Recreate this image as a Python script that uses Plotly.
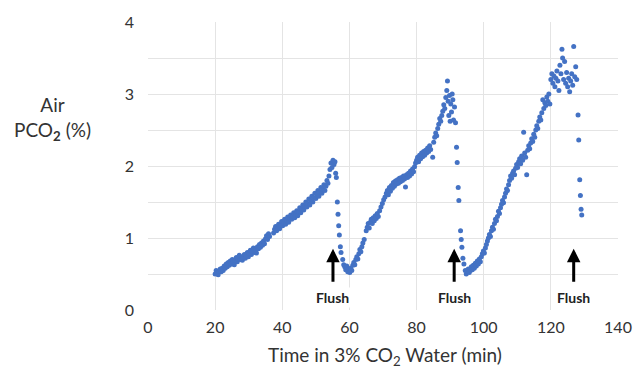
import plotly.graph_objects as go

# ---- data: (time in min, air PCO2 %) ----
seg1_x = [20.0, 20.3, 20.6, 20.9, 21.2, 21.5, 21.8, 22.1, 22.4, 22.7, 23.0, 23.3, 23.6, 23.9, 24.2, 24.5, 24.8,
          25.1, 25.4, 25.7, 26.0, 26.3, 26.6, 26.9, 27.2, 27.5, 27.8, 28.1, 28.4, 28.7, 29.0, 29.3, 29.6, 29.9,
          30.2, 30.5, 30.8, 31.1, 31.4, 31.7, 32.0, 32.3, 32.6, 32.9, 33.2, 33.5, 33.8, 34.1, 34.4, 34.7, 35.0,
          35.3, 35.6, 35.9, 36.2, 37.4, 37.7, 38.0, 38.3, 38.6, 38.9, 39.2, 39.5, 39.8, 40.1, 40.4, 40.7, 41.0,
          41.3, 41.6, 41.9, 42.2, 42.5, 42.8, 43.1, 43.4, 43.7, 44.0, 44.3, 44.6, 44.9, 45.2, 45.5, 45.8, 46.1,
          46.4, 46.7, 47.0, 47.3, 47.6, 47.9, 48.2, 48.5, 48.8, 49.1, 49.4, 49.7, 50.0, 50.3, 50.6, 50.9, 51.2,
          51.5, 51.8, 52.1, 52.4, 52.7, 53.0, 53.3, 53.6, 53.9, 54.2, 54.5, 54.8, 55.1, 55.4, 55.7, 55.9, 56.1,
          56.4, 56.6, 56.8, 57.0, 57.3, 57.5]
seg1_y = [0.50, 0.55, 0.52, 0.49, 0.54, 0.57, 0.53, 0.58, 0.55, 0.61, 0.58, 0.64, 0.60, 0.66, 0.62, 0.68, 0.64,
          0.70, 0.66, 0.63, 0.69, 0.73, 0.67, 0.71, 0.76, 0.70, 0.74, 0.69, 0.73, 0.77, 0.72, 0.75, 0.80, 0.74,
          0.78, 0.83, 0.77, 0.81, 0.86, 0.80, 0.84, 0.79, 0.88, 0.85, 0.91, 0.87, 0.93, 0.90, 0.96, 0.92, 0.99,
          1.03, 0.98, 1.06, 1.02, 1.07, 1.12, 1.16, 1.10, 1.14, 1.19, 1.13, 1.18, 1.23, 1.17, 1.21, 1.26, 1.19,
          1.24, 1.29, 1.22, 1.27, 1.32, 1.26, 1.30, 1.35, 1.28, 1.33, 1.38, 1.31, 1.36, 1.42, 1.35, 1.40, 1.46,
          1.39, 1.44, 1.50, 1.43, 1.48, 1.54, 1.46, 1.52, 1.58, 1.50, 1.56, 1.62, 1.55, 1.60, 1.66, 1.58, 1.64,
          1.70, 1.62, 1.68, 1.74, 1.66, 1.72, 1.80, 1.76, 1.86, 1.95, 2.04, 1.98, 2.08, 2.02, 2.06, 1.90, 1.84,
          1.50, 1.33, 1.17, 1.04, 0.88, 0.80]

seg2_x = [58.0, 58.3, 58.6, 58.9, 59.2, 59.5, 59.8, 60.1, 60.4, 60.7, 61.0, 61.3, 61.6, 61.9, 62.2, 62.5, 62.8,
          63.1, 63.4, 63.7, 64.0, 64.4, 65.0, 65.3, 65.6, 65.9, 66.2, 66.5, 66.8, 67.1, 67.4, 67.7, 68.0, 68.3,
          68.6, 69.0, 69.4, 69.8, 70.2, 70.6, 71.0, 71.3, 71.6, 71.9, 72.2, 72.5, 72.8, 73.1, 73.4, 73.7, 74.0,
          74.3, 74.6, 74.9, 75.2, 75.5, 75.8, 76.1, 76.4, 76.7, 77.0, 77.3, 77.6, 77.9, 78.2, 78.5, 78.8, 79.1,
          79.4, 79.7, 80.0, 80.3, 80.6, 80.9, 81.2, 81.5, 81.8, 82.1, 82.4, 82.7, 83.0, 83.3, 83.6, 83.9, 84.2,
          84.8, 85.1, 85.4, 85.7, 86.0, 86.3, 86.6, 86.9, 87.2, 87.5, 87.8, 88.1, 88.4, 88.7, 89.0, 89.2, 89.4,
          89.6, 89.8, 90.0, 90.2, 90.4, 90.6, 90.8, 91.0, 91.3, 91.6, 91.9, 92.1, 92.4, 92.6, 93.1, 93.3, 93.5,
          93.8, 94.1]
seg2_y = [0.70, 0.63, 0.60, 0.56, 0.61, 0.53, 0.57, 0.52, 0.58, 0.55, 0.62, 0.66, 0.63, 0.70, 0.74, 0.71, 0.78,
          0.84, 0.81, 0.88, 0.93, 0.98, 1.10, 1.15, 1.20, 1.14, 1.22, 1.26, 1.20, 1.28, 1.24, 1.31, 1.27, 1.34,
          1.30, 1.38, 1.43, 1.48, 1.53, 1.57, 1.62, 1.66, 1.60, 1.70, 1.65, 1.73, 1.69, 1.77, 1.72, 1.79, 1.75,
          1.81, 1.76, 1.83, 1.78, 1.84, 1.80, 1.86, 1.82, 1.71, 1.88, 1.84, 1.90, 1.86, 1.93, 1.89, 1.96, 1.92,
          1.99, 2.04, 2.08, 2.12, 2.06, 2.15, 2.10, 2.18, 2.13, 2.20, 2.15, 2.22, 2.18, 2.25, 2.20, 2.28, 2.23,
          2.12, 2.33, 2.40, 2.46, 2.42, 2.52, 2.58, 2.66, 2.62, 2.70, 2.76, 2.85, 2.80, 2.95, 3.05, 3.18, 2.90,
          2.70, 2.98, 2.62, 2.86, 2.75, 3.00, 2.92, 2.64, 2.82, 2.60, 2.26, 2.05, 1.70, 1.52, 1.10, 0.98, 0.87,
          0.72, 0.64]

seg3_x = [94.5, 94.8, 95.1, 95.4, 95.7, 96.0, 96.3, 96.6, 96.9, 97.2, 97.5, 97.8, 98.1, 98.4, 98.7, 99.0, 99.3,
          99.6, 99.9, 100.2, 100.5, 100.8, 101.1, 101.4, 101.7, 102.0, 102.3, 102.6, 102.9, 103.2, 103.5, 103.8,
          104.1, 104.4, 104.7, 105.0, 105.3, 105.6, 105.9, 106.2, 106.5, 106.8, 107.1, 107.4, 107.7, 108.0,
          108.3, 108.6, 108.9, 109.2, 109.5, 109.8, 110.1, 110.4, 110.7, 111.0, 111.3, 111.6, 111.9, 112.2,
          112.5, 112.8, 113.1, 113.4, 113.7, 114.0, 114.3, 114.6, 114.9, 115.2, 115.5, 115.8, 116.1, 116.4,
          116.7, 117.0, 117.3, 117.6, 117.9, 118.2, 118.5, 118.8, 119.1, 119.4, 119.7, 120.0, 120.3, 120.6,
          120.9, 121.2, 121.5, 121.8, 122.1, 122.4, 122.7, 123.0, 123.3, 123.5, 123.8, 124.1, 124.4, 124.7,
          125.0, 125.3, 125.6, 125.9, 126.2, 126.5, 126.8, 127.1, 127.4, 127.7, 128.1, 128.3, 128.6, 128.8,
          129.0, 129.2]
seg3_y = [0.55, 0.50, 0.53, 0.57, 0.52, 0.55, 0.60, 0.56, 0.62, 0.58, 0.65, 0.61, 0.68, 0.64, 0.71, 0.67, 0.74,
          0.78, 0.82, 0.79, 0.86, 0.91, 0.96, 1.00, 1.05, 1.02, 1.10, 1.15, 1.12, 1.20, 1.26, 1.24,
          1.30, 1.37, 1.34, 1.42, 1.47, 1.52, 1.49, 1.57, 1.62, 1.68, 1.66, 1.74, 1.80, 1.86,
          1.83, 1.90, 1.93, 1.88, 1.97, 2.02, 1.98, 2.06, 2.10, 2.03, 2.14, 2.08, 2.47, 2.18,
          2.12, 1.88, 2.22, 2.28, 2.24, 2.32, 2.38, 2.34, 2.44, 2.40, 2.50, 2.56, 2.52, 2.62,
          2.68, 2.64, 2.74, 2.92, 2.80, 2.88, 2.84, 2.96, 2.90, 3.00, 2.86, 3.20, 3.28, 3.15,
          3.25, 3.10, 3.22, 3.32, 3.18, 3.05, 3.40, 3.28, 3.62, 3.50, 3.20, 3.45, 3.15, 3.30,
          3.10, 3.22, 3.03, 3.18, 3.28, 3.12, 3.66, 3.24, 3.38, 3.20, 2.71, 2.36, 1.81, 1.59,
          1.40, 1.32]

flush_x = [55.1, 91.2, 126.8]
flush_label = "Flush"
x_ticks = [0, 20, 40, 60, 80, 100, 120, 140]
y_ticks = [0, 1, 2, 3, 4]

FONT = "Lato, 'Open Sans', sans-serif"
TXT = "#333333"

fig = go.Figure()
fig.add_trace(go.Scatter(
    x=seg1_x + seg2_x + seg3_x,
    y=seg1_y + seg2_y + seg3_y,
    mode="markers",
    marker=dict(color="#4472C4", size=5, line=dict(width=0)),
    showlegend=False,
    hoverinfo="x+y",
))

for fx in flush_x:
    fig.add_annotation(x=fx, y=0.85, ax=fx, ay=0.37, xref="x", yref="y", axref="x", ayref="y",
                       showarrow=True, arrowhead=2, arrowsize=0.9, arrowwidth=3, arrowcolor="black", text="")
    fig.add_annotation(x=fx, y=0.18, xref="x", yref="y", text="<b>" + flush_label + "</b>", showarrow=False,
                       xanchor="center", yanchor="middle",
                       font=dict(family=FONT, size=14, color="#222222"), bgcolor="white")

fig.add_annotation(x=-0.204, y=0.665, xref="paper", yref="paper", showarrow=False,
                   xanchor="center", yanchor="middle",
                   text="Air<br>PCO<sub><b>2</b></sub> (%)", align="center",
                   font=dict(family=FONT, size=19, color=TXT))
fig.add_annotation(x=0.505, y=-0.16, xref="paper", yref="paper", showarrow=False,
                   xanchor="center", yanchor="middle",
                   text="Time in 3% CO<sub>2</sub> Water (min)",
                   font=dict(family=FONT, size=19, color=TXT))

fig.update_layout(
    width=644, height=381,
    margin=dict(l=148, r=16, t=17, b=71),
    paper_bgcolor="white", plot_bgcolor="white",
    font=dict(family=FONT, size=16, color=TXT),
    xaxis=dict(range=[0, 140], tickvals=x_ticks, showgrid=True, gridcolor="#e4e4e4", gridwidth=1,
               zeroline=False, showline=False, ticks="", ticklabelstandoff=6,
               tickfont=dict(size=16, color=TXT)),
    yaxis=dict(range=[0, 4], tickvals=y_ticks, showgrid=True, gridcolor="#e4e4e4", gridwidth=1,
               zeroline=False, showline=False, ticks="", ticklabelstandoff=13,
               minor=dict(dtick=0.5, showgrid=True, gridcolor="#e4e4e4", gridwidth=1),
               tickfont=dict(size=16, color=TXT)),
)

fig.write_html("out.html")
